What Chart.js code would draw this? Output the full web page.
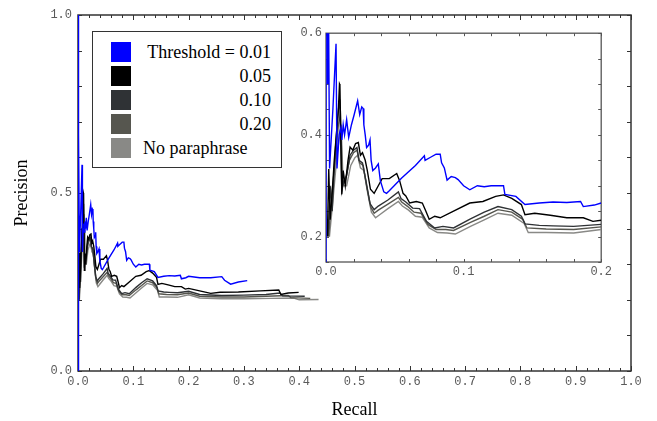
<!DOCTYPE html>
<html><head><meta charset="utf-8">
<script src="https://cdn.jsdelivr.net/npm/chart.js@4.4.1/dist/chart.umd.min.js"></script>
<style>
html,body{margin:0;padding:0;background:#fff;}
#wrap{position:relative;width:657px;height:421px;overflow:hidden;background:#fff;}
#main{position:absolute;left:0;top:0;}
#inset{position:absolute;left:290px;top:22px;}
#legend{position:absolute;left:92px;top:31px;width:190px;height:137px;border:1px solid #333;box-sizing:border-box;background:#fff;font-family:"Liberation Serif","Times New Roman",serif;font-size:18px;color:#000;}
.row{position:absolute;left:0;height:20px;width:100%;}
.sw{position:absolute;left:18px;top:0;width:20px;height:20px;}
.lab{position:absolute;line-height:20px;top:0;white-space:nowrap;}
</style>
</head><body>
<div id="wrap">
<canvas id="main" width="657" height="421" style="width:657px;height:421px"></canvas>
<canvas id="inset" width="325" height="263" style="width:325px;height:263px"></canvas>
<div id="legend"></div>
</div>
<script>
// ---- Data ----
const seriesLabels = ["Threshold = 0.01", "0.05", "0.10", "0.20", "No paraphrase"];
const seriesColors = ["#0000ff", "#000000", "#2f3235", "#56564f", "#898986"];

const recall001 = [0,0,0.0008,0.0012,0.0018,0.0026,0.0050,0.0073,0.0080,0.0095,0.0108,0.0115,0.0125,0.0135,0.0150,0.0165,0.0185,0.0205,0.0230,0.0245,0.0260,0.0270,0.0275,0.0285,0.0295,0.0310,0.0320,0.0328,0.0340,0.0360,0.0380,0.0395,0.0420,0.0440,0.0460,0.0550,0.0650,0.0715,0.0720,0.0760,0.0800,0.0830,0.0840,0.0860,0.0880,0.0910,0.0940,0.0960,0.1000,0.1045,0.1100,0.1150,0.1200,0.1290,0.1300,0.1380,0.1446,0.1550,0.1650,0.1750,0.1850,0.1870,0.1950,0.2000,0.2200,0.2400,0.2600,0.2650,0.2760,0.2900,0.3060];
const precision001 = [0,1.0,1.0,0.5,0.667,0.334,0.45,0.579,0.334,0.40,0.414,0.39,0.42,0.40,0.43,0.395,0.42,0.44,0.467,0.44,0.455,0.452,0.42,0.40,0.375,0.38,0.39,0.35,0.33,0.335,0.343,0.31,0.288,0.285,0.29,0.315,0.34,0.359,0.35,0.356,0.362,0.362,0.345,0.335,0.311,0.318,0.316,0.312,0.300,0.292,0.300,0.298,0.300,0.300,0.283,0.279,0.263,0.266,0.268,0.267,0.269,0.259,0.262,0.266,0.262,0.262,0.265,0.255,0.244,0.250,0.254];

const recall005 = [0.0010,0.0020,0.0030,0.0045,0.0060,0.0075,0.0090,0.0098,0.0101,0.0115,0.0125,0.0140,0.0160,0.0175,0.0195,0.0215,0.0235,0.0250,0.0265,0.0285,0.0300,0.0323,0.0350,0.0380,0.0408,0.0460,0.0514,0.0535,0.0560,0.0580,0.0608,0.0656,0.0700,0.0726,0.0750,0.0790,0.0830,0.0927,0.1045,0.1140,0.1233,0.1290,0.1350,0.1420,0.1446,0.1517,0.1630,0.1750,0.1870,0.1940,0.2000,0.2200,0.2400,0.2570,0.2900,0.3300,0.3630,0.3670,0.3800,0.3990];
const precision005 = [0.20,0.333,0.233,0.286,0.35,0.40,0.45,0.50,0.498,0.283,0.33,0.30,0.35,0.376,0.37,0.383,0.385,0.36,0.365,0.35,0.33,0.293,0.285,0.30,0.314,0.314,0.324,0.31,0.285,0.28,0.266,0.269,0.266,0.25,0.234,0.24,0.237,0.25,0.266,0.269,0.279,0.282,0.275,0.263,0.243,0.246,0.242,0.237,0.237,0.230,0.232,0.225,0.218,0.221,0.222,0.225,0.2275,0.215,0.219,0.221];

const recall010 = [0.0015,0.0030,0.0045,0.0065,0.0090,0.0100,0.0115,0.0130,0.0150,0.0175,0.0200,0.0225,0.0240,0.0265,0.0290,0.0320,0.0350,0.0380,0.0450,0.0526,0.0545,0.0580,0.0630,0.0680,0.0730,0.0790,0.0850,0.0927,0.1050,0.1150,0.1250,0.1350,0.1420,0.1446,0.1550,0.1650,0.1800,0.2000,0.2200,0.2600,0.3000,0.3400,0.3650,0.3700,0.4100];
const precision010 = [0.20,0.30,0.25,0.36,0.45,0.47,0.29,0.31,0.32,0.36,0.37,0.375,0.35,0.345,0.31,0.265,0.253,0.26,0.272,0.288,0.275,0.268,0.256,0.255,0.230,0.217,0.220,0.217,0.235,0.248,0.259,0.253,0.240,0.225,0.222,0.221,0.220,0.224,0.215,0.212,0.213,0.215,0.219,0.211,0.210];

const recall020 = [0.0020,0.0040,0.0060,0.0090,0.0105,0.0120,0.0140,0.0170,0.0200,0.0225,0.0245,0.0270,0.0295,0.0325,0.0350,0.0380,0.0450,0.0526,0.0550,0.0590,0.0640,0.0690,0.0740,0.0800,0.0870,0.0927,0.1050,0.1150,0.1250,0.1350,0.1430,0.1460,0.1600,0.1800,0.2000,0.2200,0.2600,0.3000,0.3400,0.3800,0.3850,0.4200];
const precision020 = [0.20,0.28,0.33,0.42,0.44,0.30,0.31,0.35,0.365,0.37,0.345,0.34,0.30,0.258,0.246,0.252,0.264,0.277,0.268,0.26,0.248,0.246,0.224,0.214,0.214,0.212,0.228,0.240,0.253,0.248,0.234,0.217,0.215,0.214,0.219,0.210,0.208,0.208,0.210,0.212,0.206,0.204];

const recallNP = [0.0025,0.0050,0.0080,0.0110,0.0125,0.0150,0.0180,0.0210,0.0230,0.0250,0.0275,0.0300,0.0330,0.0360,0.0390,0.0450,0.0526,0.0555,0.0600,0.0650,0.0700,0.0750,0.0810,0.0880,0.0940,0.1050,0.1150,0.1250,0.1350,0.1440,0.1470,0.1600,0.1800,0.2000,0.2200,0.2600,0.3000,0.3500,0.3900,0.4000,0.4350];
const precisionNP = [0.20,0.27,0.36,0.42,0.30,0.30,0.34,0.355,0.36,0.335,0.33,0.29,0.248,0.237,0.243,0.255,0.269,0.26,0.252,0.24,0.238,0.217,0.208,0.207,0.205,0.22,0.233,0.246,0.242,0.226,0.208,0.208,0.207,0.214,0.205,0.203,0.203,0.204,0.205,0.200,0.201];

const mainXTickLabels = [0,0.1,0.2,0.3,0.4,0.5,0.6,0.7,0.8,0.9,1.0];
const mainYTickLabels = [0,0.5,1.0];
const insetXTickLabels = [0,0.1,0.2];
const insetYTickLabels = [0.2,0.4,0.6];

const seriesRecall = [recall001, recall005, recall010, recall020, recallNP];
const seriesPrecision = [precision001, precision005, precision010, precision020, precisionNP];

function mkDatasets(){
  return seriesLabels.map((lab,i)=>({
    label: lab,
    data: seriesRecall[i].map((r,k)=>({x:r, y:seriesPrecision[i][k]})),
    borderColor: seriesColors[i],
    backgroundColor: seriesColors[i],
    borderWidth: 1.4,
    pointRadius: 0,
    tension: 0,
    fill: false
  }));
}

function frameTicks(cfg){
  return {
    id:'frameTicks',
    beforeDatasetsDraw(chart){
      const ctx = chart.ctx, a = chart.chartArea;
      const xs = chart.scales.x, ys = chart.scales.y;
      ctx.save();
      ctx.strokeStyle = cfg.color; ctx.lineWidth = cfg.tickWidth;
      ctx.beginPath();
      const steps = (min,max,step)=>{const out=[];const n=Math.round((max-min)/step);for(let i=0;i<=n;i++)out.push(min+i*step);return out;};
      steps(cfg.xMin,cfg.xMax,cfg.xStep).forEach(v=>{
        const px = Math.round(xs.getPixelForValue(v))+0.5;
        const major = Math.abs(v/cfg.xMajor - Math.round(v/cfg.xMajor))<1e-6;
        const L = major?cfg.majorLen:cfg.minorLen;
        ctx.moveTo(px,a.bottom); ctx.lineTo(px,a.bottom-L);
        ctx.moveTo(px,a.top); ctx.lineTo(px,a.top+L);
      });
      steps(cfg.yMin,cfg.yMax,cfg.yStep).forEach(v=>{
        const py = Math.round(ys.getPixelForValue(v))+0.5;
        const L = cfg.yLen;
        ctx.moveTo(a.left,py); ctx.lineTo(a.left+L,py);
        ctx.moveTo(a.right,py); ctx.lineTo(a.right-L,py);
      });
      ctx.stroke();
      ctx.lineWidth = cfg.frameWidth;
      ctx.strokeRect(a.left, a.top, a.right-a.left, a.bottom-a.top);
      ctx.restore();
    }
  };
}

const monoFont = {family:"'Liberation Mono','Courier New',monospace", size:12};
const serifFont = {family:"'Liberation Serif','Times New Roman',serif", size:18};
const tickColor = '#5a5a5a';

new Chart(document.getElementById('main'), {
  type:'line',
  data:{datasets: mkDatasets()},
  options:{
    responsive:false, animation:false, devicePixelRatio:1,
    layout:{padding:{top:15,right:26,left:0,bottom:0}},
    plugins:{legend:{display:false}, tooltip:{enabled:false}},
    scales:{
      x:{type:'linear', min:0, max:1,
        grid:{display:false, drawTicks:false}, border:{display:false},
        afterBuildTicks:s=>{s.ticks = mainXTickLabels.map(v=>({value:v}));},
        ticks:{padding:4, font:monoFont, color:tickColor, autoSkip:false, maxRotation:0, callback:v=>Number(v).toFixed(1)},
        title:{display:true, text:'Recall', font:serifFont, color:'#000', padding:{top:0,bottom:0}},
        afterFit:s=>{s.height=50;}
      },
      y:{type:'linear', min:0, max:1,
        grid:{display:false, drawTicks:false}, border:{display:false},
        afterBuildTicks:s=>{s.ticks = mainYTickLabels.map(v=>({value:v}));},
        ticks:{padding:6, font:monoFont, color:tickColor, autoSkip:false, callback:v=>Number(v).toFixed(1)},
        title:{display:true, text:'Precision', font:serifFont, color:'#000', padding:{top:11,bottom:0}},
        afterFit:s=>{s.width=78;}
      }
    }
  },
  plugins:[frameTicks({color:'#333', tickWidth:1, frameWidth:1.5, xMin:0,xMax:1,xStep:0.02,xMajor:0.1, yMin:0,yMax:1,yStep:0.1, majorLen:5, minorLen:3, yLen:4})]
});

new Chart(document.getElementById('inset'), {
  type:'line',
  data:{datasets: mkDatasets()},
  options:{
    responsive:false, animation:false, devicePixelRatio:1,
    layout:{padding:{top:7,right:7,left:0,bottom:0}},
    plugins:{legend:{display:false}, tooltip:{enabled:false}},
    scales:{
      x:{type:'linear', min:0, max:0.2,
        grid:{display:false, drawTicks:false}, border:{display:false},
        afterBuildTicks:s=>{s.ticks = insetXTickLabels.map(v=>({value:v}));},
        ticks:{padding:3, font:monoFont, color:tickColor, autoSkip:false, maxRotation:0, callback:v=>Number(v).toFixed(1)},
        afterFit:s=>{s.height=23;}
      },
      y:{type:'linear', min:0.15, max:0.6,
        grid:{display:false, drawTicks:false}, border:{display:false},
        afterBuildTicks:s=>{s.ticks = insetYTickLabels.map(v=>({value:v}));},
        ticks:{padding:4, font:monoFont, color:tickColor, autoSkip:false, callback:v=>Number(v).toFixed(1)},
        afterFit:s=>{s.width=36;}
      }
    }
  },
  plugins:[frameTicks({color:'#555', tickWidth:1, frameWidth:1.3, xMin:0,xMax:0.2,xStep:0.02,xMajor:0.1, yMin:0.15,yMax:0.6,yStep:0.05, majorLen:3, minorLen:3, yLen:3})]
});

// HTML legend built from the series arrays
const lg = document.getElementById('legend');
seriesLabels.forEach((lab,i)=>{
  const row = document.createElement('div'); row.className='row'; row.style.top=(10+24*i)+'px';
  const sw = document.createElement('div'); sw.className='sw'; sw.style.background=seriesColors[i]; row.appendChild(sw);
  const t = document.createElement('div'); t.className='lab'; t.textContent=lab;
  if(i<4){ t.style.right='10px'; } else { t.style.left='50px'; }
  row.appendChild(t);
  lg.appendChild(row);
});
</script>
</body></html>
